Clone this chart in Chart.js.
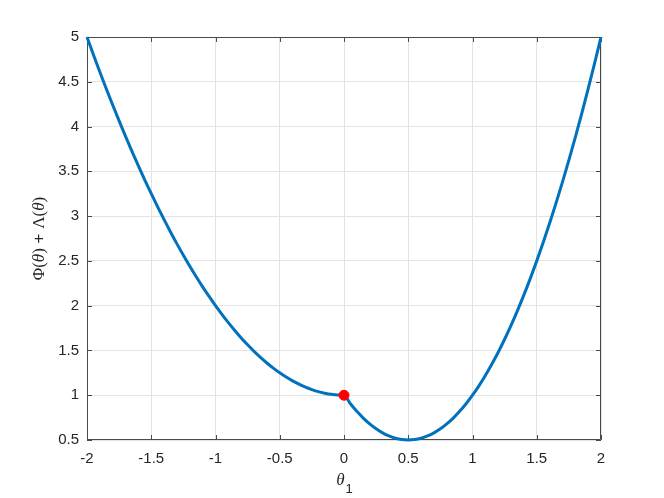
<!DOCTYPE html>
<html>
<head>
<meta charset="utf-8">
<script src="https://cdn.jsdelivr.net/npm/chart.js@4/dist/chart.umd.min.js"></script>
<style>
  html, body { margin: 0; padding: 0; background: #fff; }
  #wrap { width: 664px; height: 498px; }
</style>
</head>
<body>
<div id="wrap"><canvas id="c" width="664" height="498"></canvas></div>
<script>
// theta_1 samples and the curve value
const theta = [
  -2, -1.95, -1.9, -1.85, -1.8, -1.75, -1.7, -1.65, -1.6, -1.55,
  -1.5, -1.45, -1.4, -1.35, -1.3, -1.25, -1.2, -1.15, -1.1, -1.05,
  -1, -0.95, -0.9, -0.85, -0.8, -0.75, -0.7, -0.65, -0.6, -0.55,
  -0.5, -0.45, -0.4, -0.35, -0.3, -0.25, -0.2, -0.15, -0.1, -0.05,
  0, 0.05, 0.1, 0.15, 0.2, 0.25, 0.3, 0.35, 0.4, 0.45,
  0.5, 0.55, 0.6, 0.65, 0.7, 0.75, 0.8, 0.85, 0.9, 0.95,
  1, 1.05, 1.1, 1.15, 1.2, 1.25, 1.3, 1.35, 1.4, 1.45,
  1.5, 1.55, 1.6, 1.65, 1.7, 1.75, 1.8, 1.85, 1.9, 1.95, 2
];
const cost = [
  5, 4.803, 4.61, 4.423, 4.24, 4.063, 3.89, 3.723, 3.56, 3.403,
  3.25, 3.103, 2.96, 2.823, 2.69, 2.563, 2.44, 2.323, 2.21, 2.103,
  2, 1.903, 1.81, 1.723, 1.64, 1.563, 1.49, 1.423, 1.36, 1.303,
  1.25, 1.203, 1.16, 1.123, 1.09, 1.063, 1.04, 1.023, 1.01, 1.003,
  1, 0.905, 0.82, 0.745, 0.68, 0.625, 0.58, 0.545, 0.52, 0.505,
  0.5, 0.505, 0.52, 0.545, 0.58, 0.625, 0.68, 0.745, 0.82, 0.905,
  1, 1.105, 1.22, 1.345, 1.48, 1.625, 1.78, 1.945, 2.12, 2.305,
  2.5, 2.705, 2.92, 3.145, 3.38, 3.625, 3.88, 4.145, 4.42, 4.705, 5
];
// red marker
const markX = [0];
const markY = [1];

const xTickVals = [-2, -1.5, -1, -0.5, 0, 0.5, 1, 1.5, 2];
const yTickVals = [0.5, 1, 1.5, 2, 2.5, 3, 3.5, 4, 4.5, 5];

const axisColor = '#4a4a4a';
const textColor = '#262626';
const sansFont = "'Liberation Sans', Arial, sans-serif";
const serifFont = "'Liberation Serif', 'Times New Roman', serif";

// box + inward ticks like matlab
const boxPlugin = {
  id: 'box',
  beforeDatasetsDraw(chart) {
    const { ctx, chartArea: a, scales } = chart;
    ctx.save();
    ctx.strokeStyle = axisColor;
    ctx.lineWidth = 1;
    ctx.beginPath();
    ctx.rect(a.left + 0.5, a.top + 0.5, a.right - a.left - 1, a.bottom - a.top - 1);
    const tl = 5;
    xTickVals.forEach(v => {
      const x = Math.round(scales.x.getPixelForValue(v)) + 0.5;
      ctx.moveTo(x, a.bottom); ctx.lineTo(x, a.bottom - tl);
      ctx.moveTo(x, a.top); ctx.lineTo(x, a.top + tl);
    });
    yTickVals.forEach(v => {
      const y = Math.round(scales.y.getPixelForValue(v)) + 0.5;
      ctx.moveTo(a.left, y); ctx.lineTo(a.left + tl, y);
      ctx.moveTo(a.right, y); ctx.lineTo(a.right - tl, y);
    });
    ctx.stroke();
    ctx.restore();
  },
  afterDraw(chart) {
    const { ctx, chartArea: a } = chart;
    ctx.save();
    ctx.fillStyle = textColor;
    ctx.textBaseline = 'alphabetic';
    // x label: theta_1
    const cx = (a.left + a.right) / 2;
    ctx.font = 'italic 17px ' + serifFont;
    const wT = ctx.measureText('θ').width;
    ctx.font = '13px ' + sansFont;
    const w1 = ctx.measureText('1').width;
    const x0 = cx - (wT + w1) / 2;
    ctx.font = 'italic 17px ' + serifFont;
    ctx.fillText('θ', x0, 485);
    ctx.font = '13px ' + sansFont;
    ctx.fillText('1', x0 + wT + 1, 493);

    // y label: Phi(theta) + Lambda(theta)
    const fs = '17px ';
    const parts = [
      ['Φ', fs + serifFont], ['(', fs + serifFont], ['θ', 'italic ' + fs + serifFont],
      [')', fs + serifFont], [' + ', fs + sansFont],
      ['Λ', fs + serifFont], ['(', fs + serifFont], ['θ', 'italic ' + fs + serifFont],
      [')', fs + serifFont]
    ];
    let total = 0;
    parts.forEach(p => { ctx.font = p[1]; total += ctx.measureText(p[0]).width; });
    ctx.translate(44, (a.top + a.bottom) / 2);
    ctx.rotate(-Math.PI / 2);
    let px = -total / 2;
    parts.forEach(p => {
      ctx.font = p[1];
      ctx.fillText(p[0], px, 0);
      px += ctx.measureText(p[0]).width;
    });
    ctx.restore();
  }
};

const fmt = v => String(Math.round(v * 100) / 100);

new Chart(document.getElementById('c'), {
  type: 'scatter',
  data: {
    datasets: [
      {
        data: markX.map((x, i) => ({ x: x, y: markY[i] })),
        pointRadius: 5,
        pointBackgroundColor: '#ff0000',
        pointBorderColor: '#ff0000',
        showLine: false,
        clip: false
      },
      {
        data: theta.map((x, i) => ({ x: x, y: cost[i] })),
        showLine: true,
        borderColor: '#0072bd',
        borderWidth: 3,
        pointRadius: 0,
        cubicInterpolationMode: 'monotone',
        clip: false
      }
    ]
  },
  options: {
    responsive: false,
    animation: false,
    events: [],
    layout: { padding: { left: 0, top: 37, right: 63, bottom: 0 } },
    plugins: {
      legend: { display: false },
      tooltip: { enabled: false }
    },
    scales: {
      x: {
        type: 'linear',
        min: -2,
        max: 2,
        afterFit: s => { s.height = 58; },
        border: { display: false },
        grid: { color: '#e3e3e3', drawTicks: false },
        ticks: {
          stepSize: 0.5,
          padding: 10,
          color: textColor,
          font: { family: sansFont, size: 15 },
          callback: fmt
        }
      },
      y: {
        type: 'linear',
        min: 0.5,
        max: 5,
        afterFit: s => { s.width = 87; },
        border: { display: false },
        grid: { color: '#e3e3e3', drawTicks: false },
        ticks: {
          stepSize: 0.5,
          padding: 8,
          color: textColor,
          font: { family: sansFont, size: 15 },
          callback: fmt
        }
      }
    }
  },
  plugins: [boxPlugin]
});
</script>
</body>
</html>
